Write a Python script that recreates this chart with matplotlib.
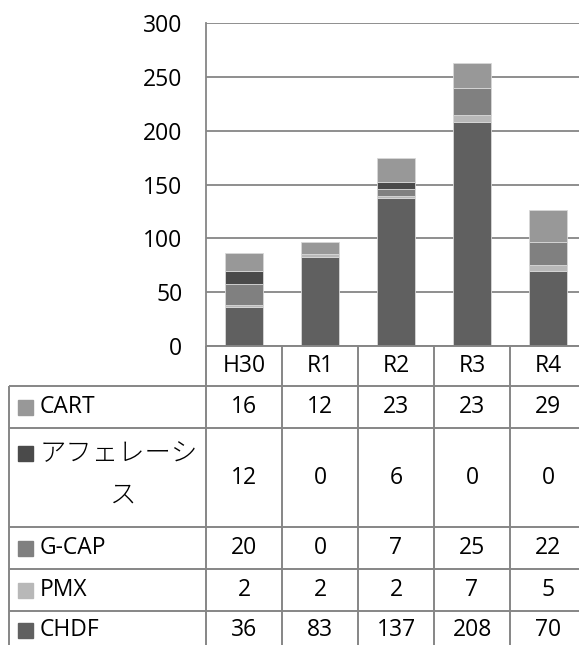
import matplotlib.pyplot as plt
from matplotlib.patches import Rectangle

plt.rcParams["font.family"] = ["Open Sans", "Noto Sans CJK JP", "DejaVu Sans"]

# Years (columns) and treatment series
years = ["H30", "R1", "R2", "R3", "R4"]
chdf = [36, 83, 137, 208, 70]
pmx = [2, 2, 2, 7, 5]
gcap = [20, 0, 7, 25, 22]
apheresis = [12, 0, 6, 0, 0]
cart = [16, 12, 23, 23, 29]

# stacking order, bottom first
series = [
    ("CHDF", chdf, "#606060"),
    ("PMX", pmx, "#b8b8b8"),
    ("G-CAP", gcap, "#808080"),
    ("アフェレーシス", apheresis, "#4a4a4a"),
    ("CART", cart, "#989898"),
]

W, H = 579, 645
fig = plt.figure(figsize=(W / 100, H / 100), dpi=100)
fig.patch.set_facecolor("white")

# pixel layout of plot area and table
col_left, col_w = 206, 76
plot_top, plot_bottom = 23, 346
grid_col = "#868686"

ax = fig.add_axes([col_left / W, 1 - plot_bottom / H,
                   col_w * len(years) / W, (plot_bottom - plot_top) / H])
x = list(range(len(years)))
bottom = [0] * len(years)
for name, vals, color in series:
    ax.bar(x, vals, width=0.5, bottom=bottom, color=color,
           edgecolor="#d8d8d8", linewidth=0.6, zorder=3)
    bottom = [b + v for b, v in zip(bottom, vals)]

ax.set_xlim(-0.5, len(years) - 0.5)
ax.set_ylim(0, 300)
ax.set_yticks(range(0, 301, 50))
ax.set_xticks([])
ax.grid(axis="y", color=grid_col, linewidth=1.3)
ax.set_axisbelow(True)
for side in ["top", "right", "bottom"]:
    ax.spines[side].set_visible(False)
ax.spines["left"].set_color(grid_col)
ax.spines["left"].set_linewidth(1.3)
ax.tick_params(axis="y", length=0, pad=17, labelsize=16.5)

# data table under the chart
tax = fig.add_axes([0, 0, 1, 1])
tax.set_xlim(0, W)
tax.set_ylim(H, 0)
tax.axis("off")

row_edges = [386, 428, 527, 569, 611, 660]
table_left = 9
lw = 1.4

tax.hlines(plot_bottom, col_left, W, color=grid_col, lw=lw)
for y in row_edges[:-1]:
    tax.hlines(y, table_left, W, color=grid_col, lw=lw)
tax.vlines(table_left, row_edges[0], H, color=grid_col, lw=lw)
for i in range(len(years) + 1):
    xc = col_left + i * col_w
    tax.vlines(xc, plot_bottom, H, color=grid_col, lw=lw)

for i, yr in enumerate(years):
    tax.text(col_left + (i + 0.5) * col_w, (plot_bottom + row_edges[0]) / 2, yr,
             ha="center", va="center", fontsize=16.5)

for r, (name, vals, color) in enumerate(reversed(series)):
    y0, y1 = row_edges[r], row_edges[r + 1]
    yc = (y0 + y1) / 2 if r < 4 else 630
    if name == "アフェレーシス":
        # long name wraps onto a second, centred line
        y_key = 453
        tax.text(40, y_key, name[:-1], ha="left", va="center", fontsize=19,
                 family="Noto Sans CJK JP", fontweight="light")
        tax.text(123, 495, name[-1], ha="center", va="center", fontsize=19,
                 family="Noto Sans CJK JP", fontweight="light")
    else:
        y_key = yc
        tax.text(40, yc, name, ha="left", va="center", fontsize=16.5)
    tax.add_patch(Rectangle((18, y_key - 7.5), 15, 15, color=color))
    for i, v in enumerate(vals):
        tax.text(col_left + (i + 0.5) * col_w, yc, str(v),
                 ha="center", va="center", fontsize=16.5)

fig.savefig("out.png", dpi=100)
